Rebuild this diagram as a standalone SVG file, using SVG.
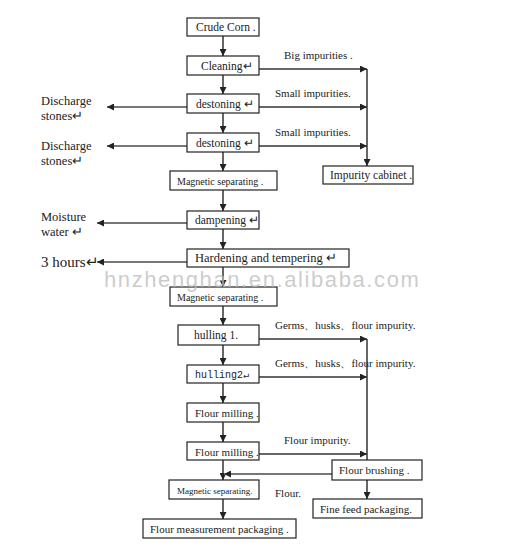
<svg xmlns="http://www.w3.org/2000/svg" width="518" height="553" viewBox="0 0 518 553">
<defs>
<marker id="ah" viewBox="0 0 10 10" refX="10" refY="5" markerWidth="7" markerHeight="7" markerUnits="userSpaceOnUse" orient="auto"><path d="M0,0 L10,5 L0,10 z" fill="#222"/></marker>
<style>
.box{fill:#fff;stroke:#222;stroke-width:1.2}
.t{font-family:"Liberation Serif","Times New Roman",serif;font-size:11.5px;fill:#222}
.s{font-size:10px}
.m{font-family:"Liberation Mono","Courier New",monospace;font-size:10px;fill:#222}
.l{font-family:"Liberation Serif","Times New Roman",serif;font-size:11px;fill:#222}
.side{font-family:"Liberation Serif","Times New Roman",serif;font-size:12.5px;fill:#222}
.c{stroke:#333;stroke-width:1.5;fill:none}
.g{stroke:#777;stroke-width:2;fill:none}
.wm{font-family:"Liberation Sans",Arial,sans-serif;font-size:22px;letter-spacing:1.6px;fill:#bbb;fill-opacity:0.75}
</style>
</defs>
<rect width="518" height="553" fill="#fff"/>
<g id="connectors">
<line class="c" x1="223" y1="36" x2="223" y2="56" marker-end="url(#ah)"/>
<line class="c" x1="223" y1="75" x2="223" y2="94" marker-end="url(#ah)"/>
<line class="c" x1="223" y1="113" x2="223" y2="133" marker-end="url(#ah)"/>
<line class="c" x1="223" y1="152" x2="223" y2="171" marker-end="url(#ah)"/>
<line class="c" x1="223" y1="190" x2="223" y2="211" marker-end="url(#ah)"/>
<line class="c" x1="223" y1="229" x2="223" y2="249" marker-end="url(#ah)"/>
<line class="c" x1="223" y1="267" x2="223" y2="287" marker-end="url(#ah)"/>
<line class="c" x1="223" y1="306" x2="223" y2="325" marker-end="url(#ah)"/>
<line class="c" x1="223" y1="345" x2="223" y2="365" marker-end="url(#ah)"/>
<line class="c" x1="223" y1="383" x2="223" y2="403" marker-end="url(#ah)"/>
<line class="c" x1="223" y1="422" x2="223" y2="442" marker-end="url(#ah)"/>
<line class="c" x1="223" y1="460" x2="223" y2="480" marker-end="url(#ah)"/>
<line class="c" x1="223" y1="499" x2="223" y2="519" marker-end="url(#ah)"/>
<line class="c" x1="259" y1="69" x2="367" y2="69" marker-end="url(#ah)"/>
<line class="c" x1="259" y1="107" x2="367" y2="107" marker-end="url(#ah)"/>
<line class="c" x1="259" y1="146" x2="367" y2="146" marker-end="url(#ah)"/>
<line class="c" x1="367" y1="69" x2="367" y2="166" marker-end="url(#ah)"/>
<line class="g" x1="187" y1="107" x2="107" y2="107" marker-end="url(#ah)"/>
<line class="g" x1="187" y1="146" x2="107" y2="146" marker-end="url(#ah)"/>
<line class="g" x1="187" y1="223" x2="97" y2="223" marker-end="url(#ah)"/>
<line class="g" x1="187" y1="262" x2="97" y2="262" marker-end="url(#ah)"/>
<line class="c" x1="259" y1="339" x2="367" y2="339" marker-end="url(#ah)"/>
<line class="c" x1="259" y1="377" x2="367" y2="377" marker-end="url(#ah)"/>
<line class="c" x1="259" y1="454" x2="367" y2="454" marker-end="url(#ah)"/>
<line class="c" x1="367" y1="339" x2="367" y2="499" marker-end="url(#ah)"/>
<line class="g" x1="332" y1="474" x2="224" y2="474" marker-end="url(#ah)"/>
</g>
<g id="crude-corn"><rect class="box" x="187" y="18" width="72" height="18"/><text class="t" x="196" y="31">Crude Corn .</text></g>
<g id="cleaning"><rect class="box" x="187" y="56" width="72" height="19"/><text class="t" x="201" y="70">Cleaning↵</text></g>
<g id="destoning1"><rect class="box" x="187" y="94" width="72" height="19"/><text class="t" x="196" y="108">destoning  ↵</text></g>
<g id="destoning2"><rect class="box" x="187" y="133" width="72" height="19"/><text class="t" x="196" y="147">destoning  ↵</text></g>
<g id="magnetic1"><rect class="box" x="170" y="171" width="107" height="19"/><text class="t s" x="177" y="185">Magnetic separating .</text></g>
<g id="impurity-cabinet"><rect class="box" x="323" y="166" width="90" height="18"/><text class="t" x="330" y="179">Impurity cabinet  .</text></g>
<g id="dampening"><rect class="box" x="187" y="211" width="72" height="18"/><text class="t" x="195" y="224">dampening  ↵</text></g>
<g id="hardening"><rect class="box" x="187" y="249" width="162" height="18"/><text class="t" x="195" y="262" style="font-size:12.5px">Hardening and tempering  ↵</text></g>
<g id="magnetic2"><rect class="box" x="170" y="287" width="107" height="19"/><text class="t s" x="177" y="301">Magnetic separating .</text></g>
<g id="hulling1"><rect class="box" x="178" y="325" width="81" height="20"/><text class="t" x="194" y="339">hulling  1.</text></g>
<g id="hulling2"><rect class="box" x="187" y="365" width="72" height="18"/><text class="m" x="195" y="378">hulling2↵</text></g>
<g id="flour-milling1"><rect class="box" x="187" y="403" width="72" height="19"/><text class="t" x="195" y="417" style="font-size:11px">Flour milling .</text></g>
<g id="flour-milling2"><rect class="box" x="187" y="442" width="72" height="18"/><text class="t" x="195" y="456" style="font-size:11px">Flour milling .</text></g>
<g id="flour-brushing"><rect class="box" x="332" y="460" width="90" height="20"/><text class="t" x="339" y="474" style="font-size:11px">Flour brushing .</text></g>
<g id="magnetic3"><rect class="box" x="169" y="480" width="90" height="19"/><text class="t" x="177" y="494" style="font-size:9px">Magnetic separating.</text></g>
<g id="fine-feed"><rect class="box" x="313" y="499" width="109" height="19"/><text class="t" x="320" y="513" style="font-size:11px">Fine feed packaging.</text></g>
<g id="flour-packaging"><rect class="box" x="143" y="519" width="153" height="19"/><text class="t" x="150" y="533" style="font-size:11px">Flour measurement packaging .</text></g>
<g id="labels">
<text class="l" x="284" y="59">Big impurities  .</text>
<text class="l" x="275" y="97">Small impurities.</text>
<text class="l" x="275" y="136">Small impurities.</text>
<text class="l" x="275" y="329">Germs、husks、flour impurity.</text>
<text class="l" x="275" y="367">Germs、husks、flour impurity.</text>
<text class="l" x="284" y="444">Flour impurity.</text>
<text class="l" x="275" y="497">Flour.</text>
<text class="side" x="41" y="105">Discharge</text>
<text class="side" x="41" y="120">stones↵</text>
<text class="side" x="41" y="150">Discharge</text>
<text class="side" x="41" y="165">stones↵</text>
<text class="side" x="41" y="221">Moisture</text>
<text class="side" x="41" y="236">water ↵</text>
<text class="side" x="41" y="267" style="font-size:15px">3 hours↵</text>
</g>
<text class="wm" x="104" y="286.5">hnzhenghan.en.alibaba.com</text>
</svg>
